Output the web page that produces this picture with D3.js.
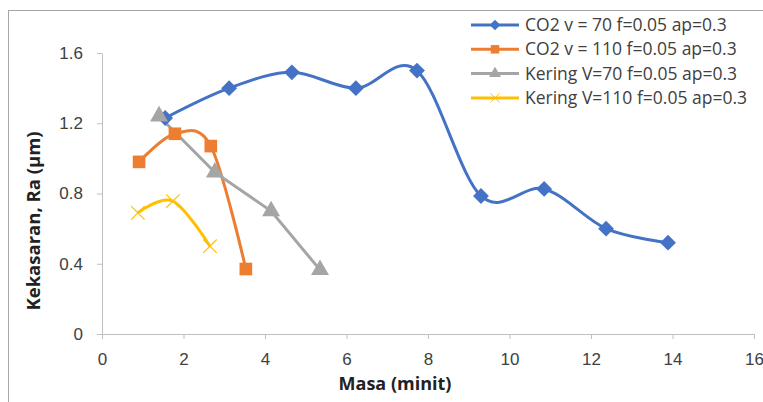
<!DOCTYPE html>
<html>
<head>
<meta charset="utf-8">
<script src="https://cdn.jsdelivr.net/npm/d3@7"></script>
<style>
  body { margin: 0; background: #fff; }
  svg { display: block; font-family: "Open Sans", "Liberation Sans", sans-serif; }
</style>
</head>
<body>
<script>
// series (x = Masa (minit), y = Ra (µm))
var co2v70x = [1.55, 3.12, 4.66, 6.23, 7.73, 9.30, 10.85, 12.37, 13.89];
var co2v70y = [1.23, 1.40, 1.49, 1.40, 1.50, 0.786, 0.826, 0.60, 0.52];
var co2v110x = [0.91, 1.79, 2.67, 3.53];
var co2v110y = [0.98, 1.14, 1.07, 0.37];
var keringv70x = [1.40, 2.77, 4.15, 5.35];
var keringv70y = [1.24, 0.92, 0.70, 0.365];
var keringv110x = [0.88, 1.74, 2.65];
var keringv110y = [0.69, 0.757, 0.50];

var seriesNames = ["CO2 v = 70 f=0.05 ap=0.3", "CO2 v = 110 f=0.05 ap=0.3",
                   "Kering V=70 f=0.05 ap=0.3", "Kering V=110 f=0.05 ap=0.3"];
var xTicks = [0, 2, 4, 6, 8, 10, 12, 14, 16];
var yTicks = [0, 0.4, 0.8, 1.2, 1.6];

var width = 763, height = 402;

var svg = d3.select("body").append("svg")
    .attr("width", width)
    .attr("height", height);

// chart area border (runs off the picture on right/bottom)
svg.append("rect")
    .attr("x", 8.5).attr("y", 10.5)
    .attr("width", 900).attr("height", 600)
    .attr("fill", "none")
    .attr("stroke", "#A6A6A6");

var x = d3.scaleLinear().domain([0, 16]).range([102, 754]);
var y = d3.scaleLinear().domain([0, 1.6]).range([334, 53]);

// axes
var gx = svg.append("g")
    .attr("transform", "translate(0," + y(0) + ")")
    .call(d3.axisBottom(x).tickValues(xTicks).tickSize(5).tickPadding(14).tickSizeOuter(0).tickFormat(d3.format("d")));
var gy = svg.append("g")
    .attr("transform", "translate(" + x(0) + ",0)")
    .call(d3.axisLeft(y).tickValues(yTicks).tickSize(5).tickPadding(14).tickSizeOuter(0).tickFormat(d => d === 0 ? "0" : d3.format(".1f")(d)));

[gx, gy].forEach(g => {
    g.select(".domain").attr("stroke", "#BFBFBF").attr("stroke-width", 1);
    g.selectAll(".tick line").attr("stroke", "#BFBFBF");
    g.selectAll(".tick text").attr("fill", "#404040").style("font-size", "17px");
});

// axis titles
svg.append("text")
    .attr("x", 395).attr("y", 390)
    .attr("text-anchor", "middle")
    .attr("font-weight", "bold")
    .attr("font-size", "18px")
    .attr("fill", "#222")
    .text("Masa (minit)");
svg.append("text")
    .attr("transform", "translate(40,221) rotate(-90)")
    .attr("text-anchor", "middle")
    .attr("font-weight", "bold")
    .attr("font-size", "18.5px")
    .attr("fill", "#222")
    .text("Kekasaran, Ra (µm)");

var colors = ["#4472C4", "#ED7D31", "#A5A5A5", "#FFC000"];
var data = [
    d3.zip(co2v70x, co2v70y),
    d3.zip(co2v110x, co2v110y),
    d3.zip(keringv70x, keringv70y),
    d3.zip(keringv110x, keringv110y)
];
var curves = [d3.curveCatmullRom.alpha(0), d3.curveCatmullRom.alpha(0), d3.curveLinear, d3.curveCatmullRom.alpha(0)];
var symbols = [d3.symbolDiamond2, d3.symbolSquare, d3.symbolTriangle, d3.symbolX];
var symSize = [160, 160, 140, 120];

var plot = svg.append("g");
data.forEach((pts, i) => {
    var line = d3.line().x(d => x(d[0])).y(d => y(d[1])).curve(curves[i]);
    plot.append("path")
        .datum(pts)
        .attr("d", line)
        .attr("fill", "none")
        .attr("stroke", colors[i])
        .attr("stroke-width", 3);
});
data.forEach((pts, i) => {
    plot.selectAll(".m" + i)
        .data(pts)
        .enter().append("path")
        .attr("transform", d => "translate(" + x(d[0]) + "," + y(d[1]) + ")")
        .attr("d", d3.symbol().type(symbols[i]).size(symSize[i]))
        .attr("fill", i === 3 ? "none" : colors[i])
        .attr("stroke", colors[i])
        .attr("stroke-width", i === 3 ? 1.2 : 0);
});

// legend
var lg = svg.append("g");
seriesNames.forEach((name, i) => {
    var ly = 25 + i * 24.3;
    lg.append("line")
        .attr("x1", 471).attr("x2", 519)
        .attr("y1", ly).attr("y2", ly)
        .attr("stroke", colors[i]).attr("stroke-width", 3);
    lg.append("path")
        .attr("transform", "translate(495," + ly + ")")
        .attr("d", d3.symbol().type(symbols[i]).size(symSize[i] * 0.45))
        .attr("fill", i === 3 ? "none" : colors[i])
        .attr("stroke", colors[i])
        .attr("stroke-width", i === 3 ? 1 : 0);
    lg.append("text")
        .attr("x", 525).attr("y", ly + 6)
        .attr("font-size", "17.5px")
        .attr("fill", "#404040")
        .text(name);
});
</script>
</body>
</html>
